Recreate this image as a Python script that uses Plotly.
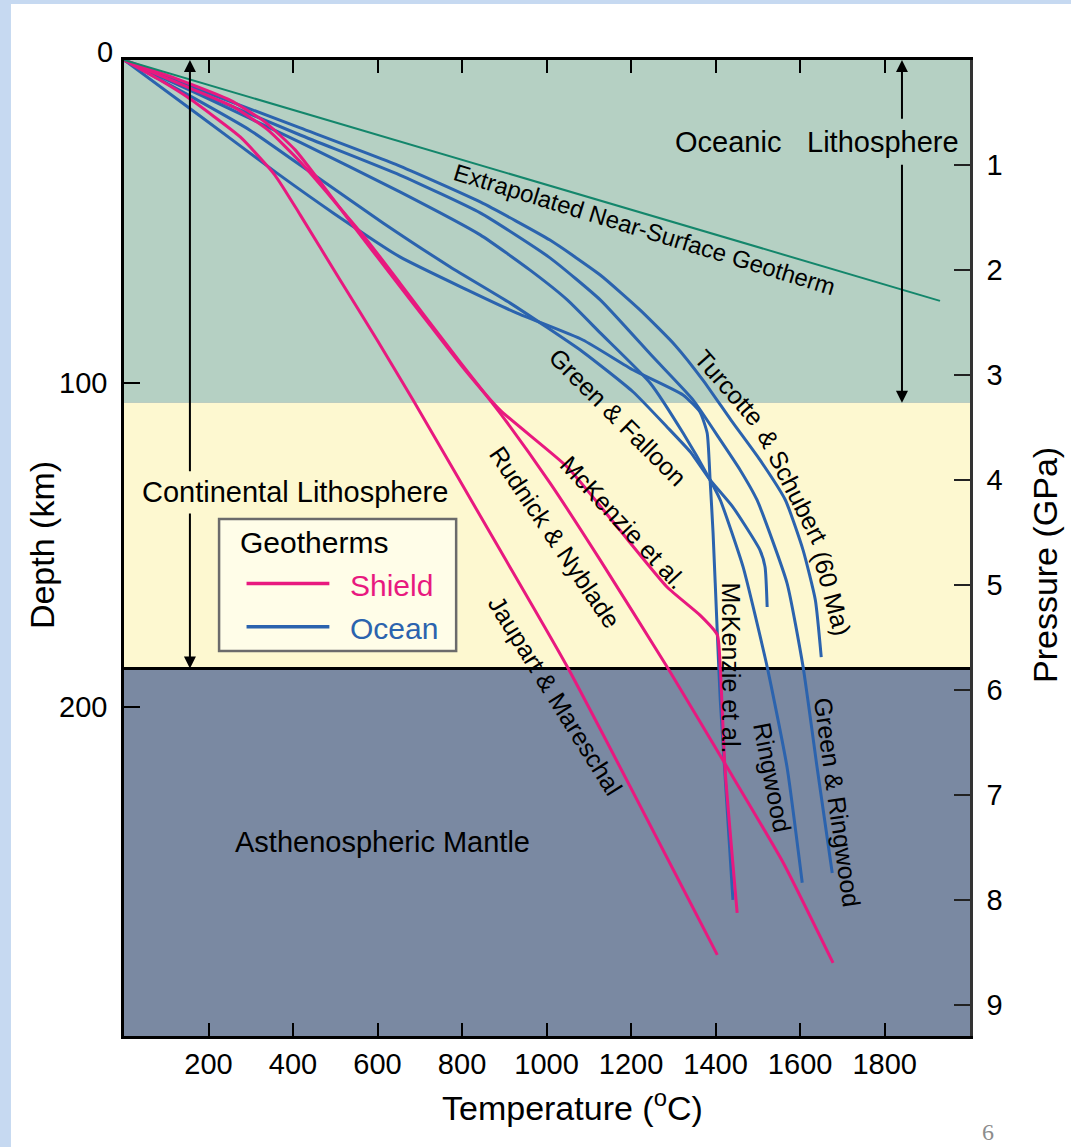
import plotly.graph_objects as go

# ---------------- data (temperature in degC, depth in km) ----------------
extrap_T = [0, 1931]
extrap_D = [0, 74.5]

turcotte_T = [0, 180, 417, 653, 843, 1008, 1127, 1221, 1304, 1370, 1436, 1505, 1565, 1607, 1636, 1650]
turcotte_D = [0, 9.3, 21.0, 32.8, 43.9, 55.7, 66.5, 77.3, 88.2, 99.0, 111.3, 123.7, 136.1, 151.6, 167.0, 184.7]

green_ringwood_T = [0, 180, 417, 653, 843, 1008, 1127, 1252, 1347, 1411, 1458, 1498, 1569, 1607, 1640, 1676]
green_ringwood_D = [0, 10.2, 23.2, 35.6, 47.3, 61.2, 74.2, 91.9, 105.2, 117.5, 126.8, 136.1, 161.8, 187.7, 218.7, 251.5]

ringwood_T = [0, 180, 417, 653, 843, 961, 1049, 1127, 1245, 1323, 1387, 1411, 1465, 1522, 1569, 1605]
ringwood_D = [0, 10.8, 25.5, 40.8, 54.1, 65.0, 74.2, 84.4, 99.9, 115.4, 129.9, 136.1, 156.8, 187.7, 218.7, 254.5]

green_falloon_T = [0, 156, 298, 457, 613, 772, 914, 1086, 1205, 1285, 1340, 1387, 1441, 1505, 1517, 1522]
green_falloon_D = [0, 11.1, 21.7, 36.2, 50.4, 64.0, 75.2, 90.3, 102.7, 113.5, 121.2, 129.9, 138.3, 151.6, 156.8, 169.2]

mckenzie_ocean_T = [0, 180, 362, 495, 653, 812, 930, 1086, 1205, 1323, 1363, 1380, 1387, 1394, 1404, 1411, 1441]
mckenzie_ocean_D = [0, 17.3, 35.0, 47.3, 60.9, 71.1, 78.3, 86.6, 95.9, 103.6, 108.9, 115.4, 129.9, 146.3, 177.2, 198.0, 259.8]

jaupart_T = [0, 85, 149, 275, 357, 417, 511, 599, 684, 890, 1049, 1404]
jaupart_D = [0, 6.2, 11.4, 23.8, 35.6, 47.9, 68.0, 86.6, 105.2, 151.6, 187.7, 276.8]

rudnick_T = [0, 156, 263, 341, 417, 499, 575, 653, 712, 795, 890, 1008, 1127, 1285, 1427, 1560, 1678]
rudnick_D = [0, 8.7, 14.8, 21.7, 31.5, 43.9, 55.7, 69.0, 79.2, 93.4, 109.2, 130.8, 154.7, 187.7, 218.7, 248.3, 279.3]

mckenzie_shield_T = [0, 133, 251, 334, 405, 488, 559, 641, 724, 807, 890, 1049, 1167, 1285, 1363, 1404, 1411, 1422, 1451]
mckenzie_shield_D = [0, 6.2, 12.4, 19.2, 27.8, 41.8, 54.1, 68.0, 82.0, 95.9, 108.3, 125.9, 144.4, 163.0, 171.7, 177.8, 187.7, 218.7, 263.8]

x_ticks = [200, 400, 600, 800, 1000, 1200, 1400, 1600, 1800]
depth_ticks = [100, 200]
pressure_ticks = [1, 2, 3, 4, 5, 6, 7, 8, 9]

oceanic_base = 106.0
continental_base = 188.2
depth_max = 301.9
km_per_gpa = 32.48
t_max = 2002

# ---------------- styles ----------------
BLUE = '#2b63ae'
PINK = '#e8197f'
GREEN = '#13866b'
OCEANIC = '#b5d0c3'
CONTINENTAL = '#fdf8d0'
ASTHENO = '#7a89a2'
FONT = 'Arial, Liberation Sans, sans-serif'

fig = go.Figure()

ocean_curves = [(mckenzie_ocean_T, mckenzie_ocean_D), (green_falloon_T, green_falloon_D),
                (ringwood_T, ringwood_D), (green_ringwood_T, green_ringwood_D),
                (turcotte_T, turcotte_D)]
for T, D in ocean_curves:
    fig.add_trace(go.Scatter(x=T, y=D, mode='lines', hoverinfo='skip', showlegend=False,
                             line=dict(color=BLUE, width=3, shape='spline', smoothing=0.5)))

shield_curves = [(jaupart_T, jaupart_D), (rudnick_T, rudnick_D), (mckenzie_shield_T, mckenzie_shield_D)]
for T, D in shield_curves:
    fig.add_trace(go.Scatter(x=T, y=D, mode='lines', hoverinfo='skip', showlegend=False,
                             line=dict(color=PINK, width=3, shape='spline', smoothing=0.5)))

fig.add_trace(go.Scatter(x=extrap_T, y=extrap_D, mode='lines', hoverinfo='skip', showlegend=False,
                         line=dict(color=GREEN, width=2)))

# pressure axis carrier
fig.add_trace(go.Scatter(x=[None], y=[None], yaxis='y2', showlegend=False, hoverinfo='skip'))

shapes = [
    # page border strips
    dict(type='rect', xref='paper', yref='paper', x0=-0.3, x1=-0.1336, y0=-0.3, y1=1.3,
         fillcolor='#c6d9f1', line=dict(width=0), layer='below'),
    dict(type='rect', xref='paper', yref='paper', x0=-0.3, x1=1.3, y0=1.0574, y1=1.3,
         fillcolor='#c6d9f1', line=dict(width=0), layer='below'),
    # layers
    dict(type='rect', xref='paper', yref='y', x0=0, x1=1, y0=0, y1=oceanic_base,
         fillcolor=OCEANIC, line=dict(width=0), layer='below'),
    dict(type='rect', xref='paper', yref='y', x0=0, x1=1, y0=oceanic_base, y1=continental_base,
         fillcolor=CONTINENTAL, line=dict(width=0), layer='below'),
    dict(type='line', xref='paper', yref='y', x0=0, x1=1, y0=continental_base, y1=continental_base,
         line=dict(color='black', width=3), layer='below'),
    # legend box
    dict(type='rect', xref='x', yref='y', x0=225, x1=786, y0=142.0, y1=182.8,
         fillcolor='#fffde8', line=dict(color='#6b6b6b', width=2.5)),
    dict(type='line', xref='x', yref='y', x0=290, x1=486, y0=161.9, y1=161.9,
         line=dict(color=PINK, width=3.5)),
    dict(type='line', xref='x', yref='y', x0=290, x1=486, y0=175.3, y1=175.3,
         line=dict(color=BLUE, width=3.5)),
]

ann = []

def arrow(x, head, tail):
    ann.append(dict(x=x, y=head, ax=x, ay=tail, xref='x', yref='y', axref='x', ayref='y',
                    text='', showarrow=True, arrowhead=2, arrowsize=1.2, arrowwidth=2,
                    arrowcolor='black', standoff=0, startstandoff=0))

arrow(156, 0, 127.7)
arrow(156, continental_base, 139.8)
arrow(1841, 0, 18.6)
arrow(1841, oceanic_base, 31.9)

def label(x, y, text, size, angle=0, color='black', xanchor='center', ref='data',
          family=FONT):
    d = dict(x=x, y=y, text=text, showarrow=False, textangle=angle,
             font=dict(size=size, color=color, family=family), xanchor=xanchor, yanchor='middle')
    if ref == 'data':
        d.update(xref='x', yref='y')
    else:
        d.update(xref='paper', yref='paper')
    ann.append(d)

# region labels
label(1430, 25.4, 'Oceanic', 29)
label(1797, 25.4, 'Lithosphere', 29)
label(405, 133.6, 'Continental Lithosphere', 29)
label(611, 241.9, 'Asthenospheric Mantle', 29)

# legend text
label(270, 149.2, 'Geotherms', 30, xanchor='left')
label(531, 162.5, 'Shield', 30, color=PINK, xanchor='left')
label(531, 175.7, 'Ocean', 30, color=BLUE, xanchor='left')

# curve labels
label(1233, 52.3, 'Extrapolated Near-Surface Geotherm', 24, angle=17)
label(1169, 110.4, 'Green &amp; Falloon', 25, angle=45)
label(1434, 101.4, 'Turcotte', 25, angle=49)
label(1582, 131.8, '&amp; Schubert', 25, angle=63)
label(1675, 164.9, '(60 Ma)', 25, angle=75)
label(1181, 142.9, 'McKenzie et al.', 25, angle=47)
label(1020, 147.5, 'Rudnick &amp; Nyblade', 25, angle=56)
label(1020, 196.4, 'Jaupart &amp; Mareschal', 25, angle=58)
label(1437, 188.0, 'McKenzie et al.', 25, angle=90)
label(1534, 221.8, 'Ringwood', 25, angle=79)
label(1688, 229.5, 'Green &amp; Ringwood', 25, angle=82)

# depth "0" label sits just above the top corner
label(-0.0106, 1.0082, '0', 29, xanchor='right', ref='paper')

# axis titles and page number
label(-0.0969, 0.503, 'Depth (km)', 34, angle=-90, ref='paper')
label(1.0887, 0.4826, 'Pressure (GPa)', 34, angle=-90, ref='paper')
label(0.5296, -0.0717, 'Temperature (<sup>o</sup>C)', 34, ref='paper')
label(1.0213, -0.0985, '6', 24, color='#8c8c8c', ref='paper',
      family='Liberation Serif, DejaVu Serif, serif')

fig.update_layout(
    width=1071, height=1147,
    margin=dict(l=124, r=101, t=60, b=111),
    paper_bgcolor='white', plot_bgcolor=ASTHENO,
    showlegend=False,
    font=dict(family=FONT, color='black'),
    shapes=shapes, annotations=ann,
    xaxis=dict(range=[0, t_max], tickvals=x_ticks, ticks='inside', ticklen=13, tickwidth=1.5,
               tickcolor='black', showline=True, linecolor='black', linewidth=2.5, mirror='ticks',
               showgrid=False, zeroline=False, tickfont=dict(size=29, color='black'),
               ticklabelstandoff=0),
    yaxis=dict(range=[depth_max, 0], tickvals=depth_ticks, ticks='inside', ticklen=16, tickwidth=1.5,
               tickcolor='black', showline=True, linecolor='black', linewidth=2.5,
               showgrid=False, zeroline=False, tickfont=dict(size=29, color='black'),
               ticklabelstandoff=8),
    yaxis2=dict(overlaying='y', side='right', range=[depth_max / km_per_gpa, 0],
                tickvals=pressure_ticks, ticks='inside', ticklen=16, tickwidth=1.5, tickcolor='#222',
                showline=True, linecolor='#333', linewidth=2.5, showgrid=False, zeroline=False,
                tickfont=dict(size=29, color='black'), ticklabelstandoff=8),
)

fig.write_html("out.html", config={'displayModeBar': False},
               post_script="document.body.style.margin='0px';")
